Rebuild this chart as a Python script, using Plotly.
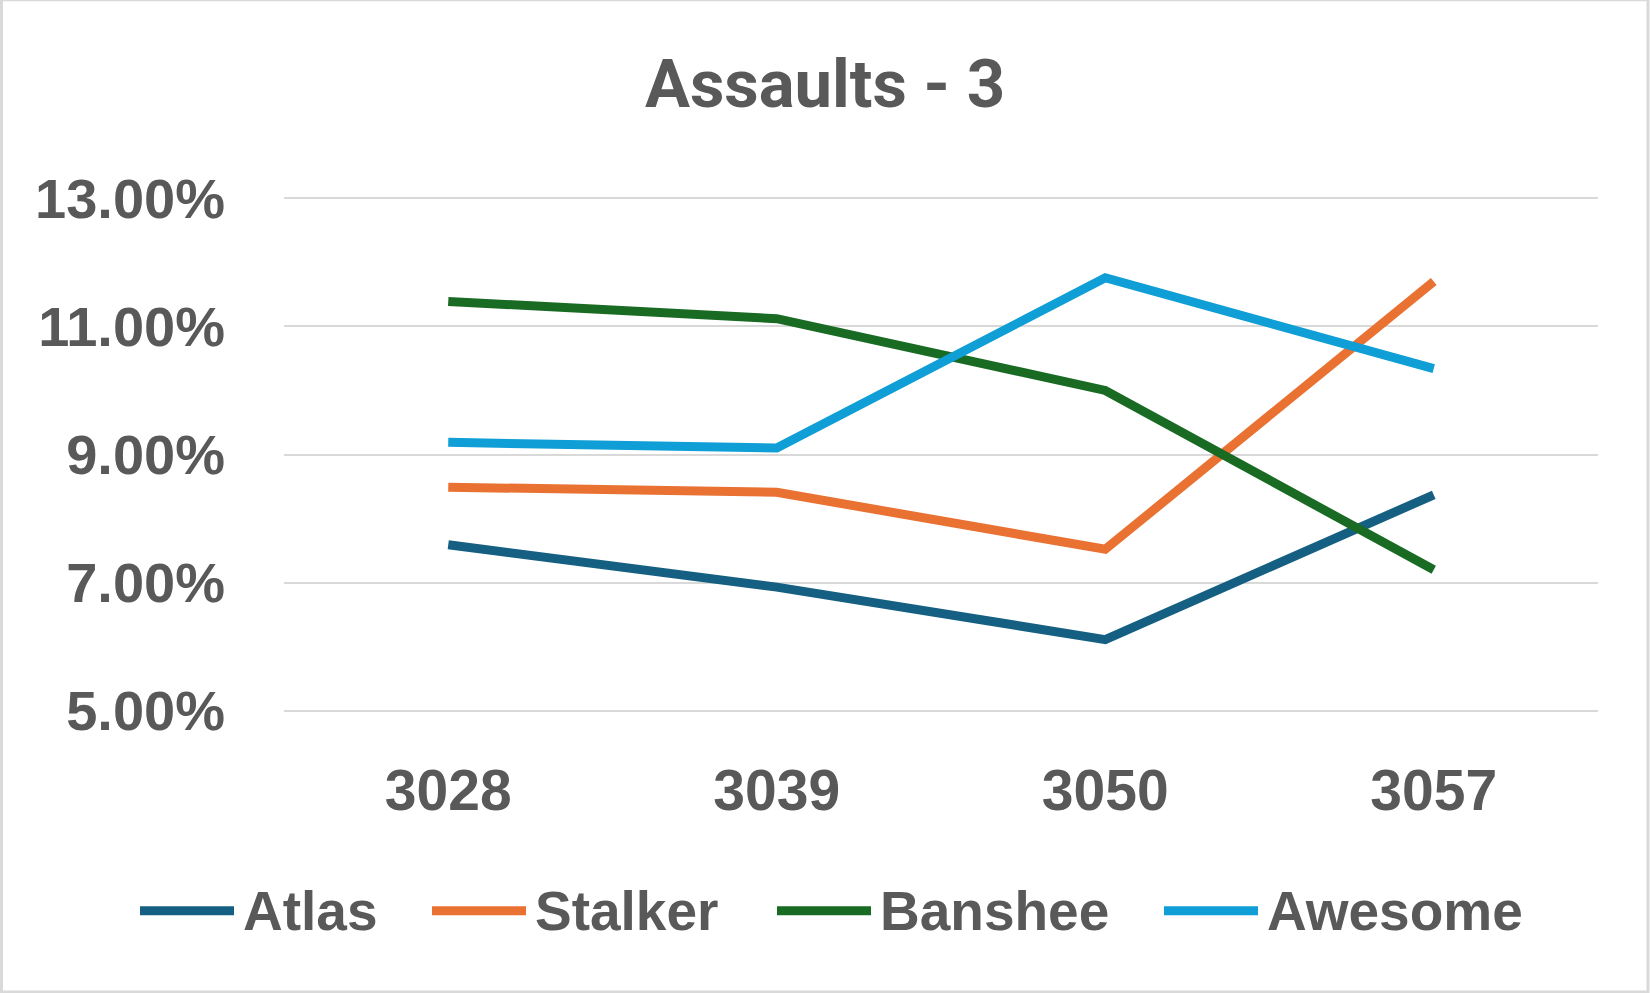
import plotly.graph_objects as go

# ---- data ----
categories = ["3028", "3039", "3050", "3057"]
atlas = [0.0759, 0.0693, 0.0611, 0.0837]
stalker = [0.0849, 0.0841, 0.0752, 0.1170]
banshee = [0.1139, 0.1112, 0.1000, 0.0720]
awesome = [0.0919, 0.0910, 0.1176, 0.1034]
series_names = ["Atlas", "Stalker", "Banshee", "Awesome"]
series_colors = ["#156082", "#E97132", "#196B24", "#0F9ED5"]
y_ticks = [0.05, 0.07, 0.09, 0.11, 0.13]

# ---- layout constants (pixels) ----
W, H = 1650, 993
PL, PR, PT, PB = 284, 1598, 198, 711
TEXT = "#595959"
GRID = "#D9D9D9"
LW = 9
Y_LO, Y_HI = 0.05, 0.13
EPS = 0.0002

def xp(px):
    return (px - PL) / (PR - PL)

def yp(py):
    return (PB - py) / (PB - PT)

fig = go.Figure()
for name, vals, col in zip(series_names, [atlas, stalker, banshee, awesome], series_colors):
    fig.add_trace(go.Scatter(
        x=categories, y=vals, name=name, mode="lines",
        line=dict(color=col, width=LW), showlegend=False,
    ))

# custom legend (long line swatches like the original)
legend_line_x = [140, 432, 777, 1164]
legend_line_len = 94
legend_text_gap = 7
legend_y = 909
shapes = []
annotations = []
for name, col, lx in zip(series_names, series_colors, legend_line_x):
    shapes.append(dict(type="line", xref="paper", yref="paper",
                       x0=xp(lx), x1=xp(lx + legend_line_len),
                       y0=yp(legend_y), y1=yp(legend_y),
                       line=dict(color=col, width=LW)))
    annotations.append(dict(text=name, xref="paper", yref="paper",
                            x=xp(lx + legend_line_len + legend_text_gap), y=yp(legend_y),
                            xanchor="left", yanchor="middle", showarrow=False,
                            font=dict(family="Liberation Sans", size=55, color=TEXT, weight="bold")))

# chart border
shapes.append(dict(type="rect", xref="paper", yref="paper",
                   x0=xp(1.5), x1=xp(W - 2), y0=yp(1.5), y1=yp(H - 3),
                   line=dict(color=GRID, width=3), layer="below"))

# compensate the tiny range padding so the plot box stays put
span = (Y_HI - Y_LO)
pad_px = EPS / span * (PB - PT)

fig.update_layout(
    width=W, height=H,
    margin=dict(l=PL, r=W - PR, t=PT - pad_px, b=H - PB - pad_px, pad=0),
    paper_bgcolor="white", plot_bgcolor="white",
    title=dict(text="<b>Assaults - 3</b>", x=0.5, xanchor="center",
               y=1 - 84 / H, yanchor="middle", yref="container",
               font=dict(family="Roboto", size=67, color=TEXT)),
    xaxis=dict(type="category", range=[-0.5, 3.5], showgrid=False, zeroline=False,
               showline=False, ticks="", ticklabelstandoff=40,
               tickfont=dict(family="Liberation Sans", size=57, color=TEXT, weight="bold")),
    yaxis=dict(range=[Y_LO - EPS, Y_HI + EPS], tickvals=y_ticks, tickformat=".2%",
               showgrid=True, gridcolor=GRID, gridwidth=2, zeroline=False,
               showline=False, ticks="", ticklabelstandoff=58,
               tickfont=dict(family="Liberation Sans", size=56, color=TEXT, weight="bold")),
    shapes=shapes, annotations=annotations,
    showlegend=False,
)

fig.write_html("out.html", config={"displayModeBar": False},
               post_script="document.body.style.margin='0';document.body.style.overflow='hidden';")
